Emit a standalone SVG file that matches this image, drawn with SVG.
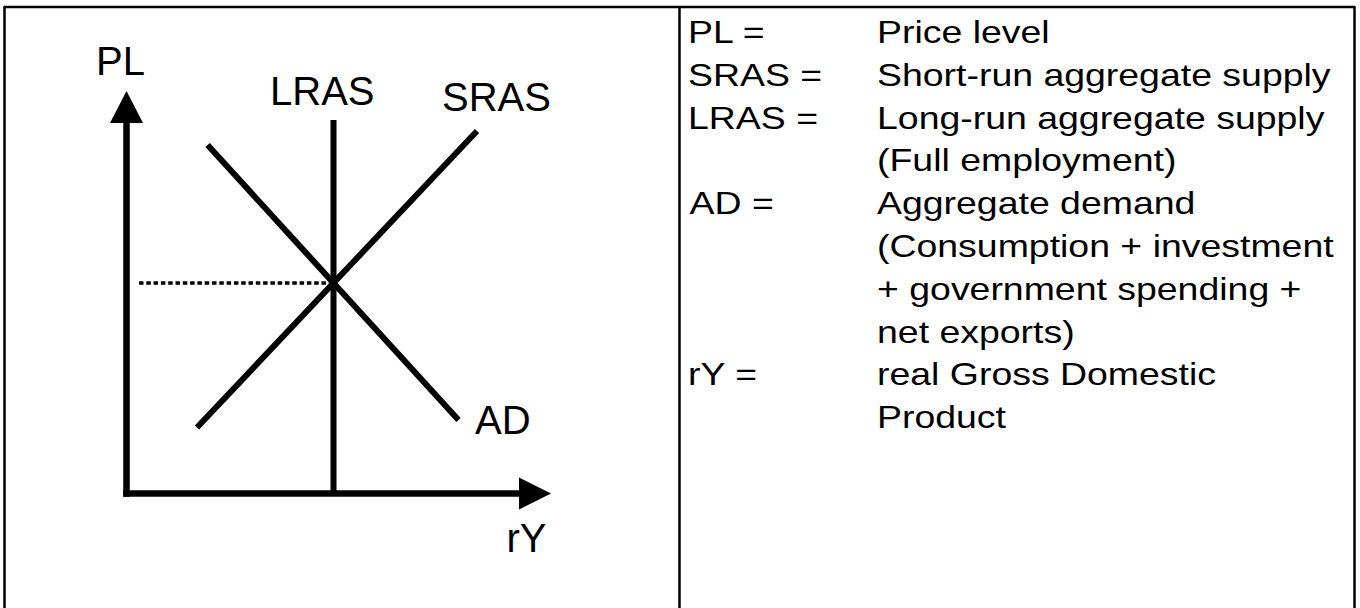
<svg xmlns="http://www.w3.org/2000/svg" width="1360" height="608" viewBox="0 0 1360 608">
<style>
.ln{stroke:#000;stroke-width:6;fill:none;stroke-linecap:butt}
.ax{stroke:#000;stroke-width:6.5;fill:none}
.lbl{font-family:"Liberation Sans",Arial,sans-serif;font-size:40px;fill:#000}
.lg{font-family:"Liberation Sans",Arial,sans-serif;font-size:32px;fill:#000}
.bd{stroke:#000;stroke-width:2.5;fill:none}
</style>
<rect width="1360" height="608" fill="#fff"/>
<g id="table">
<line class="bd" x1="3.5" y1="7" x2="1355.5" y2="7"/>
<line class="bd" x1="4.5" y1="7" x2="4.5" y2="608"/>
<line class="bd" x1="679.5" y1="7" x2="679.5" y2="608"/>
<line class="bd" x1="1354.5" y1="7" x2="1354.5" y2="608"/>
</g>
<g id="axes">
<line class="ax" x1="126.5" y1="120" x2="126.5" y2="496.75"/>
<polygon points="126.5,91 110,123 143,123" fill="#000"/>
<line class="ax" x1="123.25" y1="493.5" x2="522" y2="493.5"/>
<polygon points="551,493.5 519,477.5 519,509.5" fill="#000"/>
</g>
<g id="connectors">
<line id="lras-line" class="ln" x1="333.5" y1="120" x2="333.5" y2="493.5"/>
<line id="sras-line" class="ln" x1="197" y1="427.5" x2="477" y2="131"/>
<line id="ad-line" class="ln" x1="207.6" y1="145" x2="458.5" y2="420"/>
<line id="eq-dotted" x1="139" y1="283" x2="330" y2="283" stroke="#000" stroke-width="3.5" stroke-dasharray="4.5 2.8"/>
</g>
<g id="label-PL"><text class="lbl" x="96" y="74.5">PL</text></g>
<g id="label-LRAS"><text class="lbl" x="270" y="105">LRAS</text></g>
<g id="label-SRAS"><text class="lbl" x="442" y="111">SRAS</text></g>
<g id="label-AD"><text class="lbl" x="475" y="433.5">AD</text></g>
<g id="label-rY"><text class="lbl" x="506.5" y="552">rY</text></g>
<g id="legend">
<text class="lg" transform="matrix(1.17 0 0 1 688 43)">PL =</text>
<text class="lg" transform="matrix(1.17 0 0 1 877 43)">Price level</text>
<text class="lg" transform="matrix(1.17 0 0 1 688 85.8)">SRAS =</text>
<text class="lg" transform="matrix(1.17 0 0 1 877 85.8)">Short-run aggregate supply</text>
<text class="lg" transform="matrix(1.17 0 0 1 688 128.6)">LRAS =</text>
<text class="lg" transform="matrix(1.17 0 0 1 877 128.6)">Long-run aggregate supply</text>
<text class="lg" transform="matrix(1.17 0 0 1 877 171.4)">(Full employment)</text>
<text class="lg" transform="matrix(1.17 0 0 1 689.5 214.2)">AD =</text>
<text class="lg" transform="matrix(1.17 0 0 1 877 214.2)">Aggregate demand</text>
<text class="lg" transform="matrix(1.17 0 0 1 877 257)">(Consumption + investment</text>
<text class="lg" transform="matrix(1.17 0 0 1 877 299.8)">+ government spending +</text>
<text class="lg" transform="matrix(1.17 0 0 1 877 342.6)">net exports)</text>
<text class="lg" transform="matrix(1.17 0 0 1 688 385.4)">rY =</text>
<text class="lg" transform="matrix(1.17 0 0 1 877 385.4)">real Gross Domestic</text>
<text class="lg" transform="matrix(1.17 0 0 1 877 428.2)">Product</text>
</g>
</svg>
